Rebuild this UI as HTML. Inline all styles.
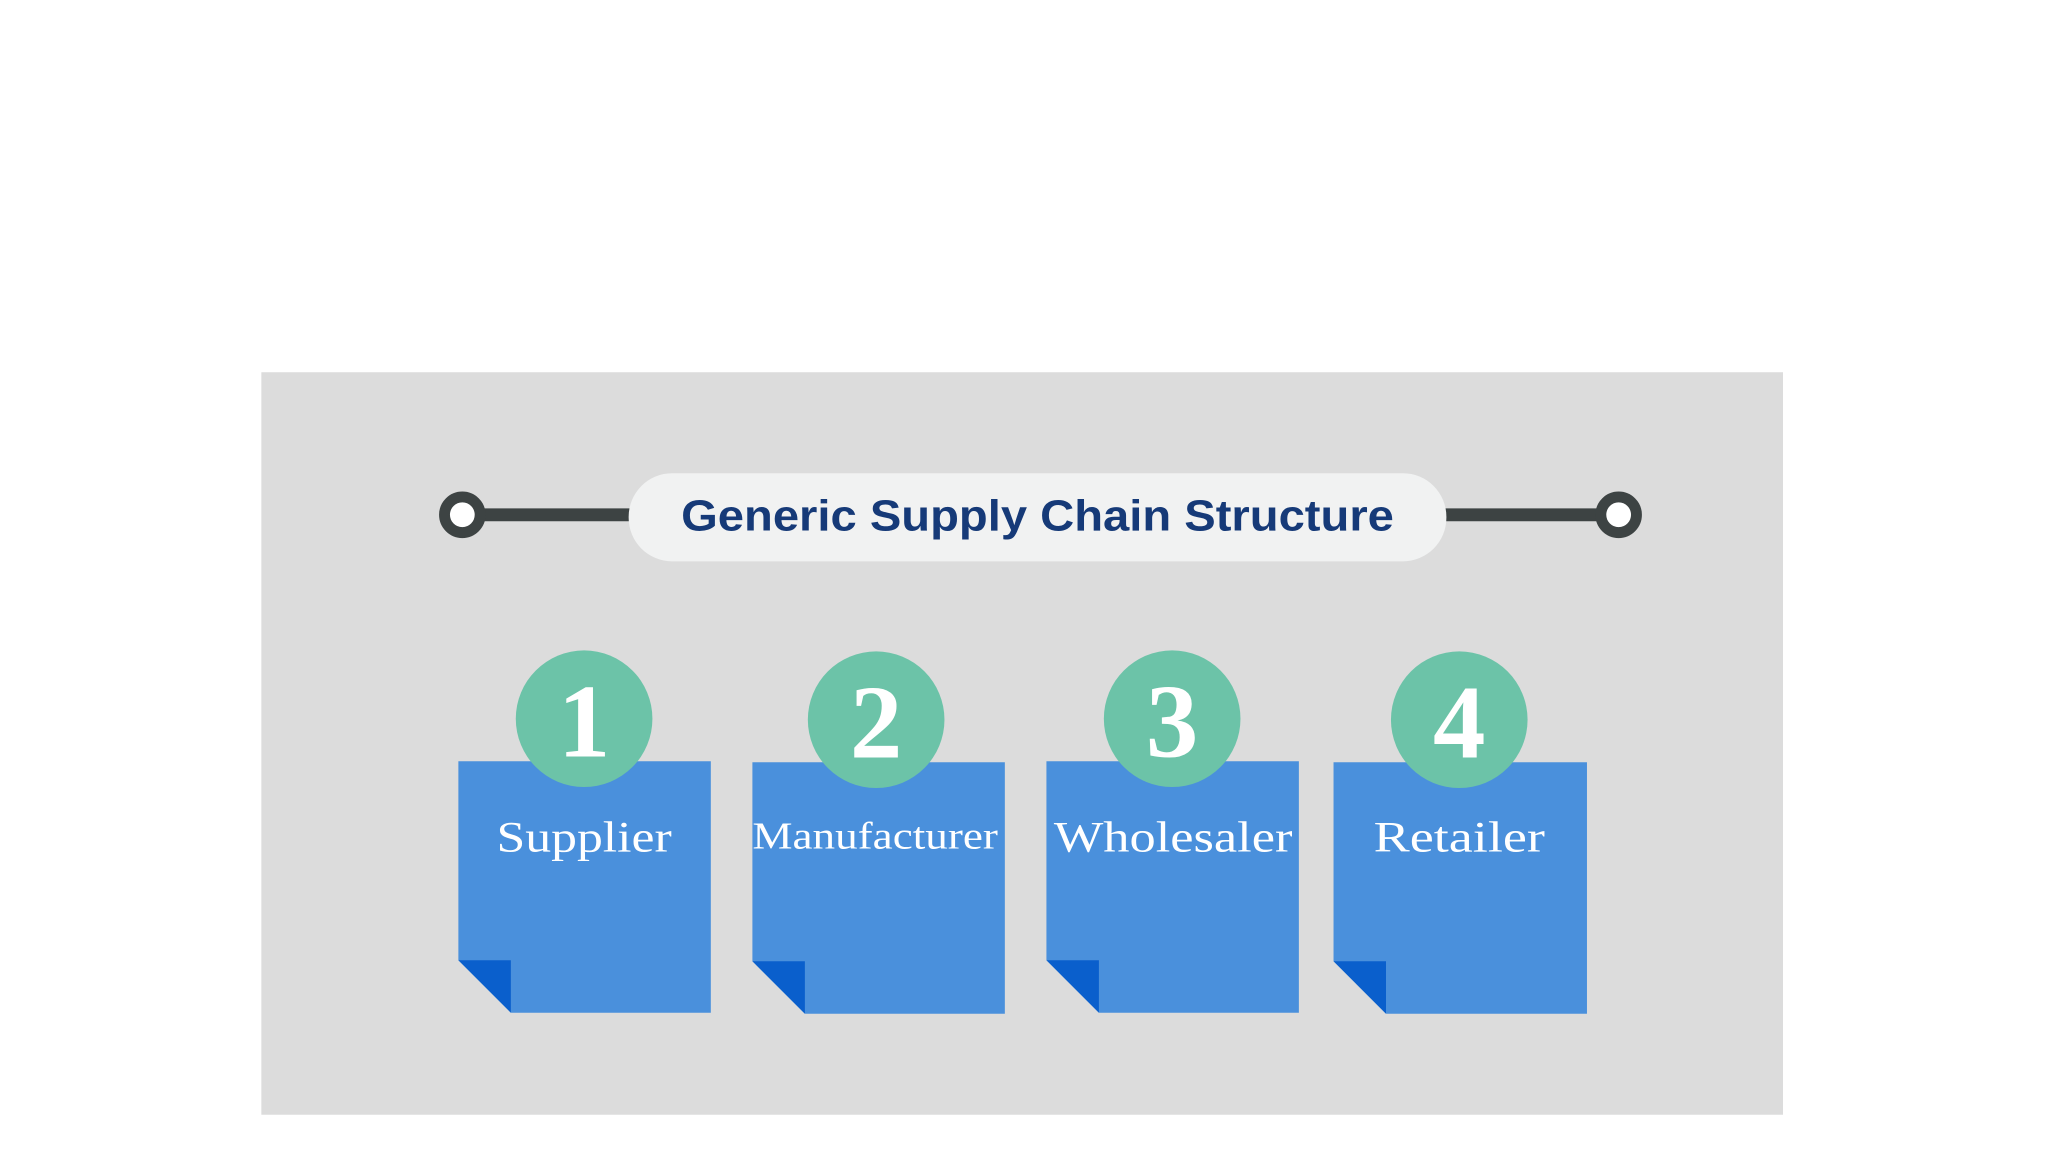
<!DOCTYPE html>
<html><head><meta charset="utf-8"><style>
body{margin:0;width:2048px;height:1152px;background:#fff;position:relative;overflow:hidden;font-family:"Liberation Sans",sans-serif}
.a{position:absolute}
#w{position:absolute;left:0;top:0;width:2048px;height:1152px;transform:scale(0.99);transform-origin:0 0}
</style></head><body>
<div id="w">
<div class="a" style="left:264px;top:376px;width:1537px;height:750px;background:#dcdcdc"></div>
<svg class="a" style="left:0;top:0" width="2048" height="1152">
<line x1="467" y1="520" x2="640" y2="520" stroke="#3d4343" stroke-width="13"/>
<line x1="1455" y1="520" x2="1635" y2="520" stroke="#3d4343" stroke-width="13"/>
<circle cx="467" cy="520" r="18" fill="#fff" stroke="#3d4343" stroke-width="11"/>
<circle cx="1635" cy="520" r="18" fill="#fff" stroke="#3d4343" stroke-width="11"/>
<rect x="635" y="478" width="826" height="89" rx="44" fill="#f1f2f2"/>
<text x="1048" y="536" text-anchor="middle" font-family="Liberation Sans, sans-serif" font-weight="bold" font-size="44" fill="#163a78" textLength="720" lengthAdjust="spacingAndGlyphs">Generic Supply Chain Structure</text>
<g font-family="Liberation Serif, DejaVu Serif, serif" fill="#fff">
<g>
<polygon points="463,769 718,769 718,1023 516,1023 463,970" fill="#4a90dc"/>
<polygon points="463,970 516,970 516,1023" fill="#0a5fcc"/>
<circle cx="590" cy="726" r="69" fill="#6cc3a8"/>
<text x="590" y="764" text-anchor="middle" font-size="106" font-weight="bold">1</text>
<text x="590" y="860" text-anchor="middle" font-size="44" textLength="177" lengthAdjust="spacingAndGlyphs">Supplier</text>
</g>
<g>
<polygon points="760,770 1015,770 1015,1024 813,1024 760,971" fill="#4a90dc"/>
<polygon points="760,971 813,971 813,1024" fill="#0a5fcc"/>
<circle cx="885" cy="727" r="69" fill="#6cc3a8"/>
<text x="885" y="765" text-anchor="middle" font-size="106" font-weight="bold">2</text>
<text x="884" y="857" text-anchor="middle" font-size="38" textLength="248" lengthAdjust="spacingAndGlyphs">Manufacturer</text>
</g>
<g>
<polygon points="1057,769 1312,769 1312,1023 1110,1023 1057,970" fill="#4a90dc"/>
<polygon points="1057,970 1110,970 1110,1023" fill="#0a5fcc"/>
<circle cx="1184" cy="726" r="69" fill="#6cc3a8"/>
<text x="1184" y="764" text-anchor="middle" font-size="106" font-weight="bold">3</text>
<text x="1185" y="860" text-anchor="middle" font-size="44" textLength="241" lengthAdjust="spacingAndGlyphs">Wholesaler</text>
</g>
<g>
<polygon points="1347,770 1603,770 1603,1024 1400,1024 1347,971" fill="#4a90dc"/>
<polygon points="1347,971 1400,971 1400,1024" fill="#0a5fcc"/>
<circle cx="1474" cy="727" r="69" fill="#6cc3a8"/>
<text x="1474" y="765" text-anchor="middle" font-size="106" font-weight="bold">4</text>
<text x="1474" y="860" text-anchor="middle" font-size="44" textLength="173" lengthAdjust="spacingAndGlyphs">Retailer</text>
</g>
</g>
</svg>
</div>
</body></html>
